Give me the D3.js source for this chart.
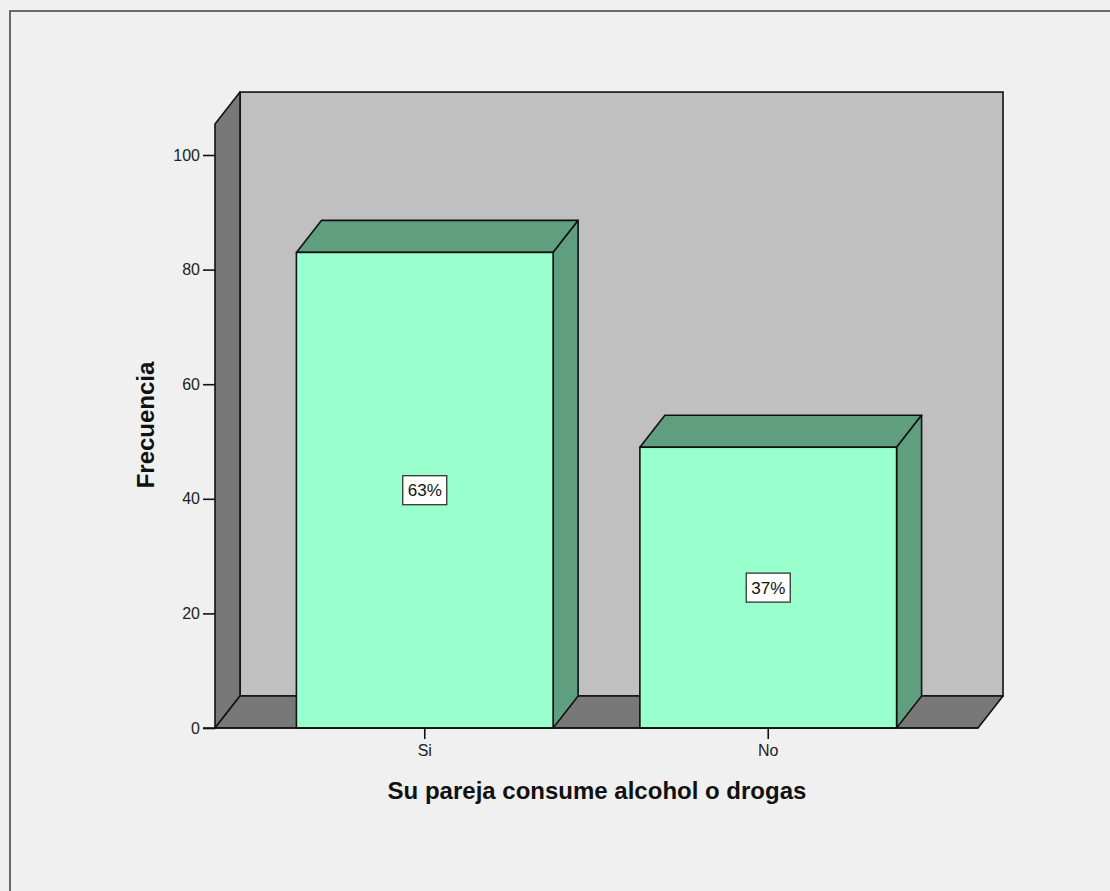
<!DOCTYPE html>
<html><head><meta charset="utf-8">
<script src="https://cdn.jsdelivr.net/npm/d3@7"></script>
<style>
html,body{margin:0;padding:0;background:#f0f0f0;}
svg{display:block;font-family:"Liberation Sans",Arial,sans-serif;}
</style></head>
<body>
<svg id="chart" width="1110" height="891"></svg>
<script>
const categories = ["Si", "No"];
const frequencies = [83, 49];
const percentLabels = ["63%", "37%"];
const yTicks = [0, 20, 40, 60, 80, 100];
const yTitle = "Frecuencia";
const xTitle = "Su pareja consume alcohol o drogas";

(function () {
const svg = d3.select("#chart");
const W = 1110, H = 891;
svg.append("rect").attr("width", W).attr("height", H).attr("fill", "#f0f0f0");
svg.append("rect").attr("x", 10).attr("y", 11).attr("width", 1300).attr("height", 1300)
  .attr("fill", "none").attr("stroke", "#4a4a4a").attr("stroke-width", 1.6);

const leftX = 215, rightX = 978, baseY = 728;
const dx = 25, dy = 32;
const yMax = 105.4;
const y = d3.scaleLinear().domain([0, yMax]).range([baseY, baseY - yMax * 5.73]);
const x = d3.scaleBand().domain(categories).range([leftX, rightX]).paddingInner(0.2526).paddingOuter(0.237);
const topY = y(yMax);

const sw = 1.6;
const wallColor = "#787878";
// back wall
svg.append("rect").attr("x", leftX + dx).attr("y", topY - dy).attr("width", rightX - leftX)
  .attr("height", baseY - topY).attr("fill", "#c0c0c0").attr("stroke", "#111").attr("stroke-width", sw);
// left wall
svg.append("polygon").attr("points", [[leftX, topY], [leftX + dx, topY - dy], [leftX + dx, baseY - dy], [leftX, baseY]].join(" "))
  .attr("fill", wallColor).attr("stroke", "#111").attr("stroke-width", sw).attr("stroke-linejoin", "round");
// floor
svg.append("polygon").attr("points", [[leftX, baseY], [leftX + dx, baseY - dy], [rightX + dx, baseY - dy], [rightX, baseY]].join(" "))
  .attr("fill", wallColor).attr("stroke", "#111").attr("stroke-width", sw).attr("stroke-linejoin", "round");

// bars
const front = "#99ffcc", shade = "#5f9e7f";
categories.forEach((c, i) => {
  const x0 = x(c), x1 = x(c) + x.bandwidth(), yt = y(frequencies[i]);
  const g = svg.append("g");
  g.append("polygon").attr("points", [[x0, yt], [x0 + dx, yt - dy], [x1 + dx, yt - dy], [x1, yt]].join(" "))
    .attr("fill", shade).attr("stroke", "#111").attr("stroke-width", sw).attr("stroke-linejoin", "round");
  g.append("polygon").attr("points", [[x1, yt], [x1 + dx, yt - dy], [x1 + dx, baseY - dy], [x1, baseY]].join(" "))
    .attr("fill", shade).attr("stroke", "#111").attr("stroke-width", sw).attr("stroke-linejoin", "round");
  g.append("rect").attr("x", x0).attr("y", yt).attr("width", x1 - x0).attr("height", baseY - yt)
    .attr("fill", front).attr("stroke", "#111").attr("stroke-width", sw);
  const cx = x0 + x.bandwidth() / 2, cy = y(frequencies[i] / 2);
  g.append("rect").attr("x", cx - 22).attr("y", cy - 14.5).attr("width", 44).attr("height", 29)
    .attr("fill", "#ffffff").attr("stroke", "#333").attr("stroke-width", 1.3);
  g.append("text").attr("x", cx).attr("y", cy + 6).attr("text-anchor", "middle")
    .attr("font-size", 17).attr("fill", "#111").text(percentLabels[i]);
});

// front baseline
svg.append("line").attr("x1", 203).attr("x2", rightX).attr("y1", baseY).attr("y2", baseY)
  .attr("stroke", "#111").attr("stroke-width", sw);

// y axis
const yAxis = svg.append("g").attr("transform", `translate(${leftX},0)`)
  .call(d3.axisLeft(y).tickValues(yTicks).tickSize(12).tickPadding(3));
yAxis.select(".domain").remove();
yAxis.selectAll("line").attr("stroke", "#111").attr("stroke-width", 1.6);
yAxis.selectAll("text").attr("font-size", 16).attr("fill", "#222").attr("font-family", "Liberation Sans, Arial, sans-serif");

// x axis
const xAxis = svg.append("g").attr("transform", `translate(0,${baseY})`)
  .call(d3.axisBottom(x).tickSize(11).tickPadding(6));
xAxis.select(".domain").remove();
xAxis.selectAll("line").attr("stroke", "#111").attr("stroke-width", 1.6);
xAxis.selectAll("text").attr("font-size", 16).attr("fill", "#222").attr("font-family", "Liberation Sans, Arial, sans-serif");

// titles
svg.append("text").attr("transform", "translate(154,425) rotate(-90)").attr("text-anchor", "middle")
  .attr("font-size", 24).attr("font-weight", "bold").attr("fill", "#111").text(yTitle);
svg.append("text").attr("x", 597).attr("y", 799).attr("text-anchor", "middle")
  .attr("font-size", 24).attr("font-weight", "bold").attr("fill", "#111").text(xTitle);
})();
</script>
</body></html>
